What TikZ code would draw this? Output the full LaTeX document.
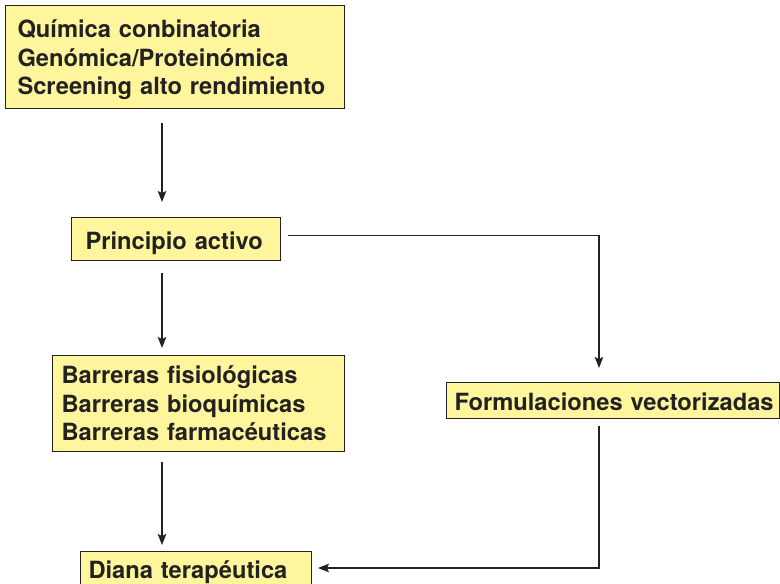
\documentclass[tikz,border=0pt]{standalone}
\usepackage{fontspec}
\setmainfont{TeX Gyre Heros}
\usetikzlibrary{arrows.meta,calc}
\definecolor{boxfill}{HTML}{FFF59D}
\definecolor{ink}{HTML}{222222}
\newcommand{\tstrut}[1]{\rule{0pt}{#1pt}}
\newcommand{\bstrut}[1]{\rule[-#1pt]{0pt}{#1pt}}
\tikzset{
  box/.style={draw=ink, line width=1pt, fill=boxfill, anchor=north west, align=left,
    font=\fontsize{23.7}{28.5}\selectfont\bfseries, text=ink, inner ysep=0pt},
  arr/.style={draw=ink, line width=1.5pt, -{Stealth[length=11pt,width=8.5pt,inset=2pt]}}
}
\begin{document}
\begin{tikzpicture}[x=1pt,y=-1pt]
\useasboundingbox (0,0) rectangle (780,584);
\node[box, inner xsep=12pt, text width=315pt] (b1) at (5,5)
  {\tstrut{32}\mbox{Química conbinatoria}\\\mbox{Genómica/Proteinómica}\\\mbox{Screening alto rendimiento}\bstrut{14}};
\node[box, inner xsep=14pt, text width=181pt] (b2) at (71,217)
  {\tstrut{32}\mbox{Principio activo}\bstrut{11}};
\node[box, inner xsep=9pt, text width=274pt] (b3) at (52,355)
  {\tstrut{28}\mbox{Barreras fisiológicas}\\\mbox{Barreras bioquímicas}\\\mbox{Barreras farmacéuticas}\bstrut{11}};
\node[box, inner xsep=8pt, text width=317pt] (b4) at (446,382)
  {\tstrut{28}\mbox{Formulaciones vectorizadas}\bstrut{8}};
\node[box, inner xsep=8pt, text width=215pt] (b5) at (80,551)
  {\tstrut{27}\mbox{Diana terapéutica}\bstrut{11}};
\coordinate (cx) at (162,0);
\coordinate (rx) at (599,0);
\draw[arr, shorten <=14pt, shorten >=15pt] (b1.south -| cx) -- (b2.north -| cx);
\draw[arr, shorten <=12pt, shorten >=7pt] (b2.south -| cx) -- (b3.north -| cx);
\draw[arr, shorten <=10pt, shorten >=6pt] (b3.south -| cx) -- (b5.north -| cx);
\draw[arr, shorten <=7pt, shorten >=14pt] ([yshift=3.5pt]b2.east) -| (b4.north -| rx);
\draw[arr, shorten <=7pt, shorten >=6pt] (b4.south -| rx) |- ([yshift=2.5pt]b5.east);
\end{tikzpicture}
\end{document}
